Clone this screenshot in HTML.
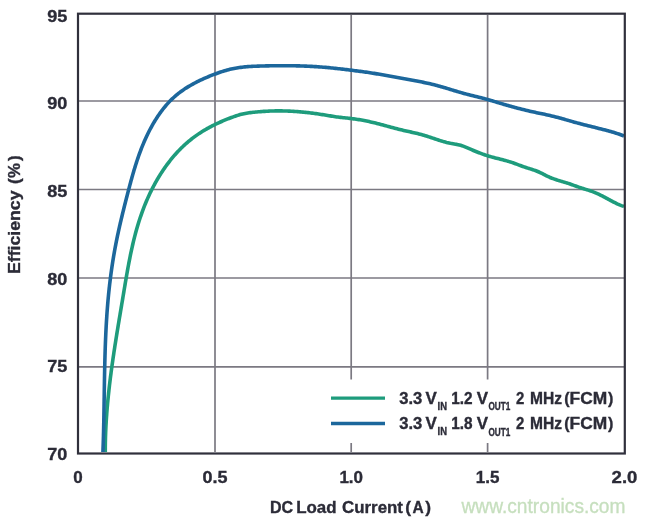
<!DOCTYPE html>
<html><head><meta charset="utf-8"><style>
html,body{margin:0;padding:0;background:#fff;}
body{width:645px;height:522px;overflow:hidden;position:relative;}
svg{position:absolute;left:0;top:0;will-change:transform;}
text{font-family:"Liberation Sans",sans-serif;font-weight:bold;fill:#2b2b37;stroke:#2b2b37;stroke-width:0.35px;}
</style></head><body>
<svg width="645" height="522" viewBox="0 0 645 522">
<g stroke="#7b7982" stroke-width="1.7" fill="none">
<line x1="79" y1="101" x2="624" y2="101"/>
<line x1="79" y1="189.5" x2="624" y2="189.5"/>
<line x1="79" y1="278" x2="624" y2="278"/>
<line x1="79" y1="366.8" x2="624" y2="366.8"/>
<line x1="215" y1="15" x2="215" y2="452"/>
<line x1="351.2" y1="15" x2="351.2" y2="452"/>
<line x1="487.6" y1="15" x2="487.6" y2="452"/>
</g>
<rect x="320" y="379.5" width="300" height="63.5" fill="#fff"/>
<g fill="none" stroke-width="3.6" stroke-linejoin="round" stroke-linecap="butt">
<path d="M105.28,452.03 L105.28,450.71 L105.29,449.39 L105.29,448.07 L105.30,446.76 L105.32,445.44 L105.34,444.13 L105.36,442.81 L105.38,441.49 L105.41,440.18 L105.45,438.86 L105.48,437.55 L105.52,436.23 L105.57,434.92 L105.61,433.61 L105.67,432.29 L105.72,430.98 L105.78,429.67 L105.84,428.35 L105.90,427.04 L105.97,425.73 L106.04,424.42 L106.12,423.11 L106.19,421.79 L106.27,420.48 L106.36,419.17 L106.44,417.86 L106.53,416.55 L106.63,415.24 L106.72,413.93 L106.82,412.62 L106.92,411.31 L107.02,410.00 L107.13,408.69 L107.24,407.38 L107.35,406.08 L107.47,404.77 L107.59,403.46 L107.71,402.15 L107.83,400.84 L107.96,399.54 L108.09,398.23 L108.22,396.92 L108.35,395.62 L108.49,394.31 L108.63,393.00 L108.77,391.70 L108.91,390.39 L109.05,389.09 L109.20,387.78 L109.35,386.48 L109.50,385.17 L109.66,383.87 L109.81,382.56 L109.97,381.26 L110.13,379.95 L110.29,378.65 L110.46,377.34 L110.62,376.04 L110.79,374.74 L110.96,373.43 L111.13,372.13 L111.31,370.83 L111.48,369.52 L111.66,368.22 L111.84,366.92 L112.02,365.62 L112.20,364.32 L112.39,363.01 L112.57,361.71 L112.76,360.41 L112.95,359.11 L113.14,357.81 L113.33,356.51 L113.52,355.21 L113.71,353.90 L113.91,352.60 L114.10,351.30 L114.30,350.00 L114.50,348.70 L114.70,347.40 L114.90,346.10 L115.10,344.80 L115.31,343.50 L115.51,342.20 L115.71,340.90 L115.92,339.61 L116.13,338.31 L116.34,337.01 L116.54,335.71 L116.75,334.41 L116.96,333.11 L117.17,331.81 L117.39,330.51 L117.60,329.22 L117.81,327.92 L118.02,326.62 L118.24,325.32 L118.45,324.02 L118.67,322.73 L118.88,321.43 L119.10,320.13 L119.31,318.83 L119.53,317.54 L119.75,316.24 L119.97,314.94 L120.18,313.65 L120.40,312.35 L120.62,311.05 L120.84,309.75 L121.05,308.46 L121.27,307.16 L121.49,305.86 L121.71,304.57 L121.92,303.27 L122.14,301.98 L122.36,300.68 L122.58,299.38 L122.79,298.09 L123.01,296.79 L123.23,295.50 L123.44,294.20 L123.66,292.90 L123.88,291.61 L124.09,290.31 L124.31,289.02 L124.52,287.72 L124.74,286.43 L124.96,285.13 L125.17,283.84 L125.39,282.54 L125.61,281.25 L125.83,279.96 L126.05,278.66 L126.28,277.37 L126.50,276.08 L126.72,274.78 L126.95,273.49 L127.18,272.20 L127.41,270.91 L127.64,269.62 L127.87,268.33 L128.11,267.04 L128.35,265.76 L128.59,264.47 L128.83,263.18 L129.08,261.90 L129.33,260.61 L129.58,259.33 L129.83,258.04 L130.09,256.76 L130.35,255.48 L130.61,254.20 L130.88,252.92 L131.15,251.64 L131.43,250.36 L131.70,249.08 L131.99,247.80 L132.27,246.53 L132.56,245.25 L132.86,243.98 L133.16,242.71 L133.46,241.44 L133.77,240.17 L134.08,238.90 L134.40,237.63 L134.72,236.37 L135.05,235.10 L135.39,233.84 L135.72,232.57 L136.07,231.31 L136.42,230.05 L136.77,228.80 L137.14,227.54 L137.50,226.28 L137.88,225.03 L138.26,223.78 L138.64,222.53 L139.03,221.28 L139.43,220.03 L139.84,218.79 L140.25,217.54 L140.67,216.30 L141.10,215.06 L141.53,213.82 L141.97,212.58 L142.42,211.35 L142.88,210.11 L143.34,208.88 L143.81,207.65 L144.29,206.42 L144.78,205.20 L145.27,203.97 L145.78,202.75 L146.29,201.53 L146.81,200.31 L147.34,199.10 L147.87,197.89 L148.41,196.68 L148.97,195.47 L149.53,194.27 L150.09,193.07 L150.67,191.88 L151.25,190.69 L151.85,189.50 L152.45,188.32 L153.06,187.14 L153.67,185.96 L154.30,184.79 L154.93,183.63 L155.58,182.47 L156.23,181.31 L156.89,180.16 L157.55,179.01 L158.23,177.87 L158.91,176.74 L159.60,175.61 L160.30,174.49 L161.01,173.37 L161.73,172.26 L162.46,171.16 L163.19,170.06 L163.93,168.97 L164.69,167.88 L165.45,166.80 L166.21,165.73 L166.99,164.67 L167.78,163.61 L168.57,162.57 L169.37,161.53 L170.18,160.49 L171.00,159.47 L171.83,158.45 L172.67,157.44 L173.52,156.44 L174.37,155.45 L175.23,154.47 L176.11,153.49 L176.99,152.53 L177.88,151.57 L178.78,150.63 L179.68,149.69 L180.60,148.76 L181.52,147.84 L182.46,146.94 L183.40,146.04 L184.35,145.15 L185.31,144.27 L186.28,143.41 L187.26,142.55 L188.25,141.71 L189.24,140.87 L190.25,140.05 L191.26,139.24 L192.29,138.44 L193.32,137.65 L194.36,136.87 L195.41,136.11 L196.47,135.35 L197.54,134.61 L198.61,133.88 L199.70,133.16 L200.79,132.46 L201.89,131.76 L203.00,131.07 L204.12,130.40 L205.24,129.74 L206.37,129.08 L207.51,128.44 L208.65,127.81 L209.80,127.18 L210.96,126.57 L212.12,125.97 L213.29,125.37 L214.46,124.79 L215.64,124.21 L216.83,123.65 L218.02,123.09 L219.21,122.54 L220.41,122.01 L221.62,121.48 L222.83,120.95 L224.04,120.44 L225.26,119.94 L226.48,119.44 L227.70,118.95 L228.93,118.47 L230.16,118.00 L231.39,117.53 L232.63,117.07 L233.87,116.62 L235.11,116.18 L236.36,115.76 L237.61,115.35 L238.87,114.97 L240.13,114.60 L241.40,114.27 L242.67,113.96 L243.95,113.68 L245.24,113.43 L246.53,113.20 L247.83,112.98 L249.13,112.79 L250.43,112.62 L251.74,112.46 L253.05,112.31 L254.35,112.17 L255.67,112.04 L256.98,111.92 L258.29,111.81 L259.60,111.70 L260.91,111.59 L262.22,111.50 L263.53,111.41 L264.84,111.33 L266.16,111.25 L267.47,111.18 L268.78,111.12 L270.09,111.06 L271.41,111.02 L272.72,110.98 L274.03,110.95 L275.34,110.92 L276.66,110.91 L277.97,110.90 L279.28,110.90 L280.60,110.91 L281.91,110.92 L283.22,110.94 L284.54,110.97 L285.85,111.01 L287.16,111.05 L288.47,111.11 L289.79,111.16 L291.10,111.23 L292.41,111.30 L293.72,111.38 L295.03,111.46 L296.35,111.56 L297.66,111.65 L298.97,111.76 L300.28,111.87 L301.59,111.99 L302.90,112.11 L304.20,112.24 L305.51,112.37 L306.82,112.51 L308.13,112.66 L309.43,112.81 L310.74,112.97 L312.04,113.13 L313.35,113.30 L314.65,113.47 L315.95,113.65 L317.25,113.84 L318.55,114.02 L319.85,114.22 L321.15,114.41 L322.45,114.62 L323.75,114.82 L325.04,115.04 L326.34,115.25 L327.63,115.47 L328.93,115.69 L330.22,115.90 L331.51,116.12 L332.81,116.33 L334.11,116.53 L335.40,116.72 L336.70,116.91 L338.00,117.08 L339.31,117.24 L340.61,117.39 L341.92,117.53 L343.23,117.67 L344.53,117.81 L345.84,117.94 L347.15,118.08 L348.46,118.22 L349.76,118.36 L351.07,118.51 L352.38,118.68 L353.68,118.85 L354.98,119.03 L356.28,119.22 L357.58,119.42 L358.88,119.63 L360.17,119.85 L361.47,120.07 L362.76,120.31 L364.05,120.55 L365.34,120.80 L366.63,121.06 L367.91,121.33 L369.20,121.60 L370.48,121.89 L371.76,122.18 L373.04,122.48 L374.32,122.78 L375.60,123.09 L376.87,123.41 L378.14,123.74 L379.41,124.07 L380.68,124.41 L381.95,124.74 L383.22,125.09 L384.49,125.43 L385.75,125.78 L387.02,126.12 L388.29,126.47 L389.55,126.82 L390.82,127.16 L392.09,127.51 L393.36,127.85 L394.63,128.18 L395.90,128.52 L397.17,128.84 L398.44,129.17 L399.72,129.48 L400.99,129.79 L402.27,130.09 L403.55,130.39 L404.83,130.68 L406.12,130.97 L407.40,131.26 L408.68,131.54 L409.96,131.83 L411.24,132.12 L412.52,132.41 L413.80,132.70 L415.08,133.00 L416.36,133.31 L417.64,133.62 L418.91,133.94 L420.18,134.27 L421.45,134.60 L422.71,134.95 L423.98,135.31 L425.24,135.69 L426.49,136.08 L427.74,136.47 L428.99,136.88 L430.24,137.30 L431.49,137.71 L432.73,138.14 L433.98,138.56 L435.23,138.98 L436.47,139.40 L437.72,139.81 L438.97,140.22 L440.22,140.62 L441.48,141.01 L442.74,141.38 L444.00,141.74 L445.27,142.08 L446.54,142.41 L447.82,142.71 L449.10,142.99 L450.39,143.25 L451.69,143.48 L452.98,143.70 L454.28,143.92 L455.58,144.15 L456.87,144.39 L458.15,144.66 L459.42,144.97 L460.68,145.32 L461.92,145.72 L463.16,146.15 L464.38,146.62 L465.59,147.11 L466.81,147.62 L468.01,148.14 L469.22,148.66 L470.43,149.18 L471.64,149.70 L472.86,150.22 L474.07,150.73 L475.29,151.23 L476.51,151.73 L477.73,152.22 L478.95,152.71 L480.18,153.18 L481.41,153.64 L482.65,154.10 L483.89,154.54 L485.13,154.96 L486.38,155.38 L487.63,155.77 L488.89,156.16 L490.15,156.52 L491.42,156.88 L492.68,157.23 L493.96,157.57 L495.23,157.90 L496.50,158.22 L497.78,158.55 L499.05,158.87 L500.33,159.19 L501.60,159.52 L502.87,159.85 L504.14,160.18 L505.41,160.52 L506.68,160.87 L507.94,161.23 L509.20,161.61 L510.45,161.99 L511.70,162.40 L512.94,162.82 L514.18,163.25 L515.41,163.70 L516.64,164.16 L517.87,164.62 L519.10,165.08 L520.33,165.55 L521.56,166.00 L522.79,166.45 L524.03,166.89 L525.28,167.31 L526.53,167.72 L527.78,168.11 L529.04,168.50 L530.30,168.89 L531.55,169.28 L532.80,169.68 L534.05,170.10 L535.28,170.54 L536.51,171.00 L537.72,171.49 L538.92,172.02 L540.11,172.57 L541.29,173.15 L542.47,173.73 L543.64,174.33 L544.81,174.93 L545.99,175.52 L547.16,176.11 L548.35,176.67 L549.54,177.22 L550.75,177.73 L551.96,178.22 L553.19,178.68 L554.42,179.12 L555.67,179.55 L556.91,179.95 L558.17,180.35 L559.43,180.73 L560.69,181.11 L561.95,181.48 L563.21,181.86 L564.47,182.23 L565.73,182.62 L566.98,183.01 L568.23,183.41 L569.48,183.83 L570.72,184.25 L571.96,184.69 L573.19,185.14 L574.42,185.59 L575.65,186.04 L576.89,186.49 L578.12,186.93 L579.36,187.36 L580.61,187.79 L581.86,188.20 L583.12,188.59 L584.38,188.98 L585.64,189.37 L586.90,189.76 L588.16,190.15 L589.41,190.56 L590.66,190.97 L591.90,191.40 L593.14,191.86 L594.36,192.34 L595.57,192.84 L596.77,193.36 L597.97,193.90 L599.15,194.46 L600.34,195.04 L601.51,195.62 L602.68,196.22 L603.84,196.83 L605.01,197.45 L606.16,198.07 L607.32,198.69 L608.48,199.32 L609.64,199.94 L610.79,200.56 L611.95,201.18 L613.12,201.79 L614.28,202.39 L615.45,202.98 L616.63,203.55 L617.81,204.11 L619.01,204.64 L620.21,205.15 L621.44,205.60 L622.69,206.01 L623.97,206.36" stroke="#1e9c7c"/>
<path d="M102.91,451.99 L102.97,450.60 L103.02,449.21 L103.07,447.82 L103.12,446.43 L103.17,445.04 L103.22,443.64 L103.26,442.25 L103.30,440.86 L103.35,439.47 L103.39,438.08 L103.43,436.68 L103.46,435.29 L103.50,433.90 L103.54,432.51 L103.57,431.11 L103.60,429.72 L103.64,428.33 L103.67,426.93 L103.70,425.54 L103.73,424.15 L103.76,422.75 L103.79,421.36 L103.81,419.97 L103.84,418.57 L103.87,417.18 L103.89,415.79 L103.92,414.39 L103.94,413.00 L103.97,411.61 L103.99,410.21 L104.01,408.82 L104.03,407.42 L104.06,406.03 L104.08,404.64 L104.10,403.24 L104.12,401.85 L104.14,400.45 L104.16,399.06 L104.18,397.67 L104.21,396.27 L104.23,394.88 L104.25,393.48 L104.27,392.09 L104.29,390.69 L104.31,389.30 L104.33,387.91 L104.36,386.51 L104.38,385.12 L104.40,383.72 L104.42,382.33 L104.45,380.94 L104.47,379.54 L104.50,378.15 L104.52,376.75 L104.55,375.36 L104.57,373.97 L104.60,372.57 L104.63,371.18 L104.66,369.78 L104.69,368.39 L104.72,367.00 L104.75,365.60 L104.78,364.21 L104.81,362.82 L104.85,361.42 L104.88,360.03 L104.92,358.64 L104.96,357.24 L104.99,355.85 L105.03,354.46 L105.08,353.06 L105.12,351.67 L105.16,350.28 L105.21,348.88 L105.25,347.49 L105.30,346.10 L105.35,344.71 L105.40,343.31 L105.46,341.92 L105.51,340.53 L105.57,339.14 L105.63,337.75 L105.69,336.35 L105.75,334.96 L105.81,333.57 L105.88,332.18 L105.95,330.79 L106.02,329.40 L106.09,328.01 L106.16,326.61 L106.24,325.22 L106.32,323.83 L106.40,322.44 L106.48,321.05 L106.57,319.66 L106.66,318.27 L106.75,316.88 L106.84,315.49 L106.93,314.10 L107.03,312.71 L107.13,311.33 L107.23,309.94 L107.34,308.55 L107.45,307.16 L107.56,305.77 L107.67,304.38 L107.79,302.99 L107.91,301.61 L108.03,300.22 L108.16,298.83 L108.29,297.45 L108.42,296.06 L108.55,294.67 L108.69,293.29 L108.83,291.90 L108.98,290.51 L109.12,289.13 L109.27,287.74 L109.43,286.36 L109.58,284.97 L109.74,283.59 L109.91,282.20 L110.08,280.82 L110.25,279.44 L110.42,278.05 L110.60,276.67 L110.78,275.29 L110.96,273.91 L111.15,272.53 L111.34,271.15 L111.53,269.77 L111.73,268.39 L111.93,267.01 L112.14,265.63 L112.35,264.25 L112.56,262.88 L112.77,261.50 L112.99,260.12 L113.22,258.75 L113.44,257.37 L113.67,256.00 L113.91,254.63 L114.14,253.26 L114.39,251.88 L114.63,250.51 L114.88,249.14 L115.13,247.77 L115.39,246.41 L115.65,245.04 L115.91,243.67 L116.18,242.31 L116.45,240.94 L116.73,239.58 L117.01,238.21 L117.29,236.85 L117.58,235.49 L117.86,234.13 L118.16,232.77 L118.45,231.41 L118.75,230.05 L119.05,228.69 L119.36,227.33 L119.66,225.98 L119.97,224.62 L120.28,223.26 L120.60,221.91 L120.92,220.55 L121.24,219.20 L121.56,217.84 L121.88,216.49 L122.21,215.13 L122.54,213.78 L122.87,212.43 L123.20,211.07 L123.54,209.72 L123.87,208.37 L124.21,207.01 L124.55,205.66 L124.89,204.31 L125.23,202.96 L125.57,201.61 L125.92,200.25 L126.26,198.90 L126.61,197.55 L126.96,196.20 L127.31,194.85 L127.66,193.49 L128.01,192.14 L128.36,190.79 L128.71,189.44 L129.07,188.09 L129.43,186.74 L129.79,185.39 L130.15,184.04 L130.51,182.69 L130.88,181.34 L131.25,179.99 L131.62,178.65 L132.00,177.30 L132.38,175.96 L132.76,174.62 L133.15,173.28 L133.54,171.94 L133.93,170.60 L134.33,169.26 L134.74,167.93 L135.15,166.60 L135.56,165.27 L135.98,163.94 L136.41,162.61 L136.84,161.29 L137.28,159.97 L137.72,158.65 L138.17,157.34 L138.63,156.02 L139.10,154.71 L139.57,153.41 L140.04,152.10 L140.53,150.80 L141.02,149.50 L141.52,148.21 L142.03,146.92 L142.55,145.63 L143.08,144.35 L143.61,143.07 L144.15,141.79 L144.71,140.52 L145.27,139.25 L145.84,137.99 L146.42,136.73 L147.01,135.47 L147.61,134.22 L148.22,132.98 L148.84,131.74 L149.47,130.50 L150.12,129.27 L150.77,128.04 L151.44,126.82 L152.11,125.60 L152.80,124.39 L153.50,123.18 L154.22,121.98 L154.94,120.79 L155.68,119.60 L156.43,118.42 L157.19,117.24 L157.96,116.08 L158.75,114.92 L159.55,113.77 L160.37,112.63 L161.19,111.50 L162.03,110.38 L162.89,109.27 L163.76,108.17 L164.64,107.09 L165.53,106.01 L166.44,104.95 L167.36,103.91 L168.30,102.87 L169.25,101.86 L170.21,100.85 L171.19,99.87 L172.18,98.89 L173.19,97.94 L174.22,97.00 L175.25,96.08 L176.31,95.18 L177.37,94.30 L178.46,93.43 L179.55,92.58 L180.66,91.76 L181.79,90.94 L182.92,90.15 L184.07,89.37 L185.23,88.60 L186.40,87.86 L187.58,87.12 L188.77,86.40 L189.97,85.70 L191.18,85.00 L192.39,84.32 L193.62,83.65 L194.85,83.00 L196.09,82.35 L197.33,81.72 L198.58,81.09 L199.84,80.48 L201.10,79.88 L202.37,79.29 L203.64,78.71 L204.92,78.14 L206.21,77.58 L207.49,77.03 L208.79,76.49 L210.08,75.96 L211.38,75.44 L212.69,74.93 L213.99,74.43 L215.30,73.94 L216.62,73.45 L217.93,72.98 L219.25,72.52 L220.57,72.07 L221.90,71.63 L223.23,71.21 L224.56,70.80 L225.89,70.41 L227.23,70.04 L228.58,69.68 L229.92,69.34 L231.27,69.02 L232.63,68.73 L233.99,68.45 L235.35,68.19 L236.72,67.96 L238.09,67.74 L239.46,67.54 L240.83,67.35 L242.21,67.19 L243.59,67.03 L244.98,66.89 L246.37,66.77 L247.75,66.66 L249.14,66.55 L250.54,66.46 L251.93,66.38 L253.32,66.31 L254.72,66.24 L256.12,66.19 L257.51,66.13 L258.91,66.09 L260.31,66.04 L261.71,66.00 L263.10,65.97 L264.50,65.93 L265.90,65.90 L267.29,65.86 L268.69,65.84 L270.09,65.81 L271.48,65.79 L272.88,65.76 L274.27,65.74 L275.67,65.73 L277.06,65.71 L278.46,65.70 L279.85,65.69 L281.25,65.69 L282.64,65.68 L284.03,65.69 L285.43,65.69 L286.82,65.69 L288.21,65.70 L289.61,65.72 L291.00,65.73 L292.39,65.75 L293.78,65.78 L295.17,65.80 L296.57,65.83 L297.96,65.87 L299.35,65.90 L300.74,65.94 L302.13,65.99 L303.52,66.04 L304.91,66.09 L306.30,66.15 L307.70,66.21 L309.09,66.27 L310.48,66.34 L311.87,66.42 L313.26,66.49 L314.65,66.58 L316.03,66.66 L317.42,66.75 L318.81,66.85 L320.20,66.95 L321.59,67.06 L322.98,67.17 L324.37,67.28 L325.76,67.40 L327.15,67.53 L328.54,67.66 L329.92,67.79 L331.31,67.93 L332.70,68.07 L334.09,68.21 L335.47,68.36 L336.86,68.52 L338.25,68.67 L339.64,68.83 L341.02,68.99 L342.41,69.15 L343.79,69.31 L345.18,69.48 L346.57,69.65 L347.95,69.82 L349.33,69.98 L350.72,70.15 L352.10,70.33 L353.49,70.50 L354.87,70.67 L356.25,70.84 L357.63,71.02 L359.01,71.20 L360.39,71.38 L361.78,71.56 L363.15,71.75 L364.53,71.94 L365.91,72.13 L367.29,72.33 L368.67,72.53 L370.04,72.74 L371.42,72.95 L372.79,73.17 L374.17,73.39 L375.54,73.62 L376.91,73.86 L378.29,74.10 L379.66,74.34 L381.03,74.59 L382.40,74.84 L383.77,75.09 L385.14,75.34 L386.51,75.59 L387.88,75.84 L389.25,76.08 L390.63,76.32 L392.00,76.56 L393.37,76.80 L394.74,77.03 L396.12,77.26 L397.49,77.49 L398.86,77.72 L400.24,77.96 L401.61,78.19 L402.98,78.43 L404.35,78.67 L405.73,78.91 L407.10,79.16 L408.47,79.41 L409.84,79.66 L411.21,79.92 L412.58,80.17 L413.95,80.44 L415.32,80.70 L416.68,80.97 L418.05,81.24 L419.42,81.52 L420.78,81.80 L422.15,82.08 L423.51,82.37 L424.87,82.66 L426.24,82.96 L427.60,83.26 L428.96,83.56 L430.31,83.87 L431.67,84.19 L433.03,84.52 L434.38,84.85 L435.73,85.20 L437.08,85.55 L438.42,85.91 L439.77,86.28 L441.11,86.66 L442.45,87.04 L443.78,87.43 L445.12,87.83 L446.45,88.23 L447.79,88.63 L449.12,89.04 L450.46,89.44 L451.79,89.85 L453.12,90.26 L454.45,90.67 L455.79,91.07 L457.12,91.47 L458.46,91.87 L459.80,92.26 L461.14,92.64 L462.48,93.02 L463.82,93.39 L465.17,93.76 L466.51,94.12 L467.86,94.47 L469.21,94.82 L470.56,95.16 L471.91,95.50 L473.26,95.84 L474.62,96.18 L475.97,96.51 L477.32,96.85 L478.67,97.19 L480.02,97.53 L481.38,97.87 L482.72,98.22 L484.07,98.57 L485.42,98.93 L486.76,99.29 L488.10,99.67 L489.44,100.05 L490.78,100.44 L492.11,100.84 L493.45,101.24 L494.78,101.64 L496.11,102.04 L497.45,102.45 L498.78,102.85 L500.11,103.25 L501.45,103.65 L502.79,104.04 L504.12,104.43 L505.46,104.82 L506.80,105.20 L508.14,105.58 L509.49,105.96 L510.83,106.33 L512.17,106.70 L513.52,107.07 L514.86,107.43 L516.21,107.78 L517.56,108.14 L518.91,108.49 L520.26,108.83 L521.61,109.18 L522.96,109.51 L524.32,109.85 L525.67,110.18 L527.02,110.50 L528.38,110.82 L529.74,111.14 L531.10,111.45 L532.46,111.76 L533.82,112.07 L535.18,112.36 L536.54,112.66 L537.90,112.95 L539.27,113.23 L540.63,113.51 L542.00,113.79 L543.37,114.08 L544.73,114.36 L546.09,114.65 L547.46,114.94 L548.82,115.24 L550.17,115.55 L551.53,115.88 L552.88,116.21 L554.23,116.55 L555.58,116.89 L556.93,117.25 L558.27,117.61 L559.61,117.98 L560.96,118.35 L562.30,118.72 L563.64,119.10 L564.98,119.48 L566.32,119.86 L567.66,120.25 L569.00,120.63 L570.34,121.01 L571.68,121.39 L573.02,121.77 L574.36,122.14 L575.71,122.51 L577.05,122.88 L578.40,123.24 L579.74,123.60 L581.09,123.95 L582.44,124.30 L583.79,124.65 L585.14,125.00 L586.49,125.34 L587.84,125.68 L589.19,126.02 L590.54,126.36 L591.90,126.70 L593.25,127.04 L594.60,127.37 L595.95,127.71 L597.31,128.05 L598.66,128.38 L600.01,128.72 L601.36,129.06 L602.71,129.40 L604.07,129.75 L605.41,130.09 L606.76,130.45 L608.11,130.81 L609.45,131.18 L610.79,131.55 L612.13,131.94 L613.47,132.33 L614.80,132.74 L616.13,133.16 L617.45,133.59 L618.77,134.04 L620.09,134.50 L621.40,134.98 L622.70,135.48 L624.00,136.00" stroke="#1c679c"/>
</g>
<rect x="78" y="13.7" width="546.8" height="439.8" fill="none" stroke="#30303c" stroke-width="2.2"/>
<g font-size="17">
<text x="47.3" y="21.8" textLength="20.1" lengthAdjust="spacingAndGlyphs">95</text>
<text x="47.3" y="109.4" textLength="20.1" lengthAdjust="spacingAndGlyphs">90</text>
<text x="47.3" y="197" textLength="20.1" lengthAdjust="spacingAndGlyphs">85</text>
<text x="47.3" y="284.6" textLength="20.1" lengthAdjust="spacingAndGlyphs">80</text>
<text x="47.3" y="372.2" textLength="20.1" lengthAdjust="spacingAndGlyphs">75</text>
<text x="47.3" y="459.7" textLength="20.1" lengthAdjust="spacingAndGlyphs">70</text>
</g>
<g font-size="17" text-anchor="middle">
<text x="78" y="483">0</text>
<text x="215" y="483" textLength="25" lengthAdjust="spacingAndGlyphs">0.5</text>
<text x="351.2" y="483">1.0</text>
<text x="487.6" y="483">1.5</text>
<text x="624.5" y="483" textLength="25.8" lengthAdjust="spacingAndGlyphs">2.0</text>
</g>
<g font-size="17.4">
<text x="270" y="513.4" textLength="23.2" lengthAdjust="spacingAndGlyphs">DC</text>
<text x="296.2" y="513.4" textLength="40.4" lengthAdjust="spacingAndGlyphs">Load</text>
<text x="342" y="513.4" textLength="61" lengthAdjust="spacingAndGlyphs">Current</text>
<text x="405.3" y="513.4">(</text>
<text x="412.6" y="513.4" textLength="11.2" lengthAdjust="spacingAndGlyphs">A</text>
<text x="425.3" y="513.4">)</text>
</g>
<g transform="translate(20.3,273.2) rotate(-90)" font-size="17">
<text x="-0.8" y="0" textLength="83.5" lengthAdjust="spacingAndGlyphs">Efficiency</text>
<text x="89.2" y="0">(</text>
<text x="95.2" y="0" textLength="15" lengthAdjust="spacingAndGlyphs">%</text>
<text x="112.2" y="0">)</text>
</g>
<line x1="331" y1="398.1" x2="385" y2="398.1" stroke="#1e9c7c" stroke-width="3.4"/>
<line x1="331" y1="423.5" x2="385" y2="423.5" stroke="#1c679c" stroke-width="3.4"/>
<g font-size="16">
<text x="399.3" y="403.8" textLength="23" lengthAdjust="spacingAndGlyphs">3.3</text>
<text x="425.5" y="403.8" textLength="11.3" lengthAdjust="spacingAndGlyphs">V</text>
<text x="437.6" y="409.6" font-size="10.5" textLength="9.4" lengthAdjust="spacingAndGlyphs">IN</text>
<text x="451.3" y="403.8" textLength="21.3" lengthAdjust="spacingAndGlyphs">1.2</text>
<text x="476.7" y="403.8" textLength="11.3" lengthAdjust="spacingAndGlyphs">V</text>
<text x="488.5" y="410.2" font-size="10.5" textLength="21.8" lengthAdjust="spacingAndGlyphs">OUT1</text>
<text x="516" y="403.8" textLength="8.3" lengthAdjust="spacingAndGlyphs">2</text>
<text x="530" y="403.8" textLength="32" lengthAdjust="spacingAndGlyphs">MHz</text>
<text x="564.2" y="403.8">(</text>
<text x="569.6" y="403.8" textLength="37.6" lengthAdjust="spacingAndGlyphs">FCM</text>
<text x="607.9" y="403.8">)</text>
<text x="399.3" y="429.2" textLength="23" lengthAdjust="spacingAndGlyphs">3.3</text>
<text x="425.5" y="429.2" textLength="11.3" lengthAdjust="spacingAndGlyphs">V</text>
<text x="437.6" y="435.0" font-size="10.5" textLength="9.4" lengthAdjust="spacingAndGlyphs">IN</text>
<text x="451.3" y="429.2" textLength="21.3" lengthAdjust="spacingAndGlyphs">1.8</text>
<text x="476.7" y="429.2" textLength="11.3" lengthAdjust="spacingAndGlyphs">V</text>
<text x="488.5" y="435.6" font-size="10.5" textLength="21.8" lengthAdjust="spacingAndGlyphs">OUT1</text>
<text x="516" y="429.2" textLength="8.3" lengthAdjust="spacingAndGlyphs">2</text>
<text x="530" y="429.2" textLength="32" lengthAdjust="spacingAndGlyphs">MHz</text>
<text x="564.2" y="429.2">(</text>
<text x="569.6" y="429.2" textLength="37.6" lengthAdjust="spacingAndGlyphs">FCM</text>
<text x="607.9" y="429.2">)</text>
</g>
<text x="461.5" y="512.8" font-size="20.5" textLength="164" lengthAdjust="spacingAndGlyphs" style="font-weight:normal;fill:#c6dfbe;stroke:#c6dfbe;stroke-width:0.35px">www.cntronics.com</text>
</svg>
</body></html>
